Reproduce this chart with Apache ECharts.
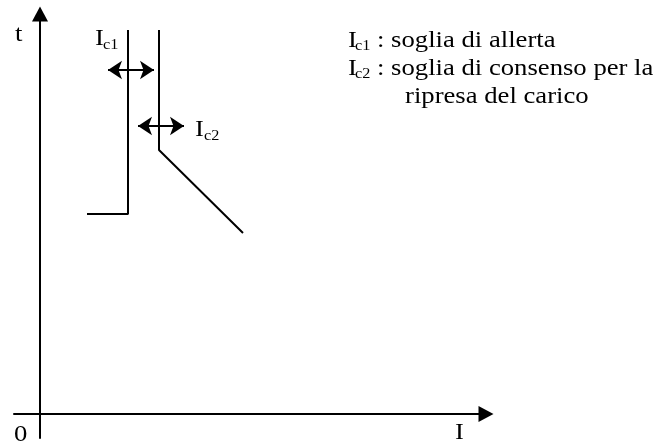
<!DOCTYPE html>
<html>
<head>
<meta charset="utf-8">
<script src="https://cdn.jsdelivr.net/npm/echarts@6/dist/echarts.min.js"></script>
<style>
  html, body { margin: 0; padding: 0; background: #fff; }
  #main { width: 656px; height: 443px; }
</style>
</head>
<body>
<div id="main"></div>
<script>
// curve of the alert threshold Ic1 (I, t)
var alertCurve = [[4.7, 20.0], [8.8, 20.0], [8.8, 38.4]];
// curve of the consent threshold Ic2 (I, t)
var consentCurve = [[11.9, 38.4], [11.9, 26.4], [20.3, 18.1]];
// double arrows showing the adjustable thresholds
var arrowIc1 = [[6.8, 34.4], [11.4, 34.4]];
var arrowIc2 = [[9.8, 28.8], [14.4, 28.8]];

var legendLines = [
  ["c1", ": soglia di allerta"],
  ["c2", ": soglia di consenso per la"],
  ["", "ripresa del carico"]
];

var FONT = '"Liberation Serif", "Times New Roman", serif';

// text placed by its baseline (the source picture is a bit stretched sideways)
function txt(str, x, baseline, size) {
  return {
    type: "text",
    left: x,
    top: baseline - size * 0.78,
    scaleX: 1.16,
    style: { text: str, font: size + "px " + FONT, fill: "#000" }
  };
}

var graphics = [
  txt("t", 15, 41, 23),
  txt("0", 14, 441, 23),
  txt("I", 455, 439, 23),
  txt("I", 95, 45, 23), txt("c1", 103, 49, 14),
  txt("I", 195, 136, 23), txt("c2", 204, 140, 14)
];

// legend on the right
var legendBase = [47, 75, 103];
legendLines.forEach(function (l, i) {
  if (l[0]) {
    graphics.push(txt("I", 348, legendBase[i], 23));
    graphics.push(txt(l[0], 355, legendBase[i] + 3, 14));
    graphics.push(txt(l[1], 377, legendBase[i], 23));
  } else {
    graphics.push(txt(l[1], 405, legendBase[i], 23));
  }
});

function arrowLine(pts) {
  return [{ coord: pts[0] }, { coord: pts[1] }];
}

var option = {
  backgroundColor: "#fff",
  animation: false,
  grid: { left: 14, right: 170, top: 14, bottom: 5 },
  xAxis: {
    type: "value", min: -2.6, max: 44.6,
    axisLine: { onZero: true, symbol: ["none", "triangle"], symbolSize: [16, 15],
      lineStyle: { color: "#000", width: 2 } },
    axisTick: { show: false }, axisLabel: { show: false }, splitLine: { show: false }
  },
  yAxis: {
    type: "value", min: -2.4, max: 40,
    axisLine: { onZero: true, symbol: ["none", "triangle"], symbolSize: [16, 15],
      lineStyle: { color: "#000", width: 2 } },
    axisTick: { show: false }, axisLabel: { show: false }, splitLine: { show: false }
  },
  graphic: graphics,
  series: [
    {
      type: "line", data: alertCurve, symbol: "none",
      lineStyle: { color: "#000", width: 2 }
    },
    {
      type: "line", data: consentCurve, symbol: "none",
      lineStyle: { color: "#000", width: 2 },
      markLine: {
        silent: true,
        symbol: ["arrow", "arrow"],
        symbolSize: [14, 14],
        label: { show: false },
        lineStyle: { color: "#000", width: 2, type: "solid" },
        data: [arrowLine(arrowIc1), arrowLine(arrowIc2)]
      }
    }
  ]
};

var myChart = echarts.init(document.getElementById("main"));
myChart.setOption(option);
</script>
</body>
</html>
